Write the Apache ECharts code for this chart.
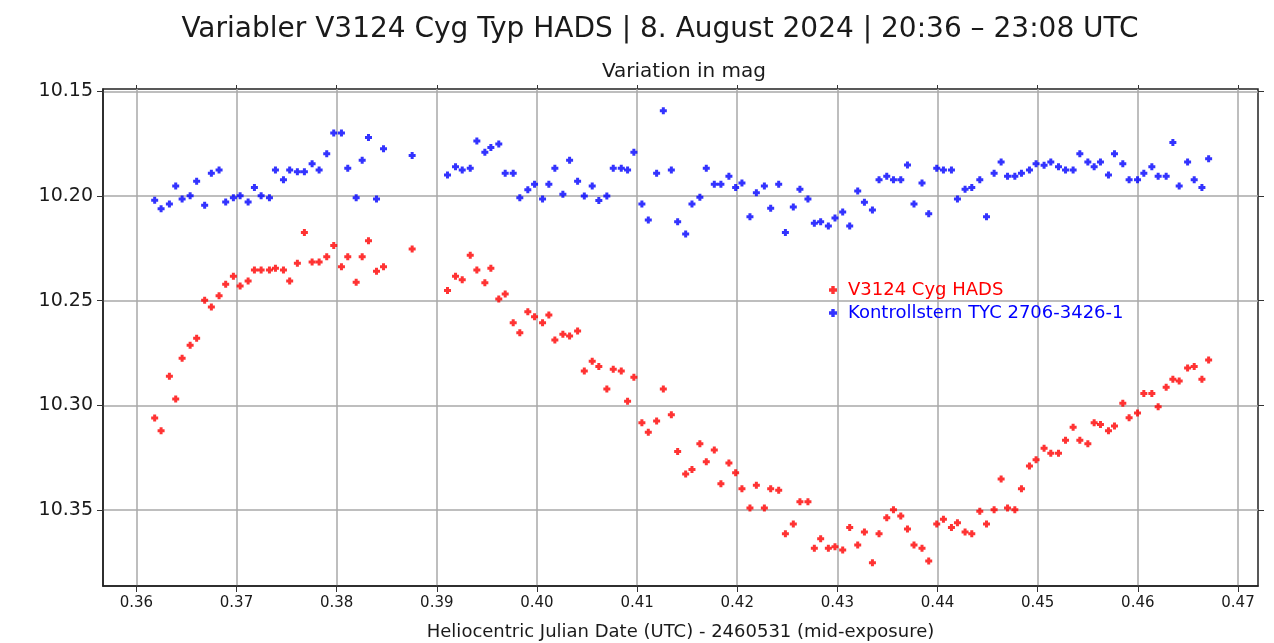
<!DOCTYPE html>
<html>
<head>
<meta charset="utf-8">
<script src="https://cdn.jsdelivr.net/npm/echarts@6/dist/echarts.min.js"></script>
<style>
  html, body { margin: 0; padding: 0; background: #fff; }
  #chart { width: 1274px; height: 643px; }
</style>
</head>
<body>
<div id="chart"></div>
<script>
// HJD - 2460531 (mid-exposure), same time stamps for both stars
var times = [
  0.36183, 0.36247, 0.36330, 0.36393, 0.36457, 0.36537, 0.36602, 0.36682, 0.36749, 0.36826,
  0.36892, 0.36969, 0.37036, 0.37116, 0.37179, 0.37246, 0.37329, 0.37389, 0.37469, 0.37531,
  0.37608, 0.37678, 0.37755, 0.37825, 0.37901, 0.37971, 0.38048, 0.38111, 0.38195, 0.38255,
  0.38318, 0.38398, 0.38468, 0.38754, 0.39107, 0.39187, 0.39254, 0.39334, 0.39400, 0.39480,
  0.39540, 0.39619, 0.39683, 0.39763, 0.39829, 0.39909, 0.39976, 0.40056, 0.40119, 0.40179,
  0.40259, 0.40326, 0.40406, 0.40473, 0.40552, 0.40618, 0.40698, 0.40762, 0.40842, 0.40905,
  0.40968, 0.41048, 0.41112, 0.41195, 0.41262, 0.41342, 0.41405, 0.41485, 0.41548, 0.41627,
  0.41691, 0.41771, 0.41837, 0.41917, 0.41984, 0.42047, 0.42127, 0.42191, 0.42271, 0.42334,
  0.42414, 0.42481, 0.42560, 0.42626, 0.42706, 0.42770, 0.42833, 0.42910, 0.42976, 0.43053,
  0.43123, 0.43203, 0.43270, 0.43350, 0.43416, 0.43493, 0.43560, 0.43633, 0.43700, 0.43765,
  0.43845, 0.43912, 0.43992, 0.44059, 0.44139, 0.44199, 0.44275, 0.44342, 0.44422, 0.44489,
  0.44565, 0.44635, 0.44699, 0.44772, 0.44838, 0.44918, 0.44984, 0.45064, 0.45131, 0.45208,
  0.45278, 0.45354, 0.45421, 0.45501, 0.45564, 0.45627, 0.45707, 0.45767, 0.45850, 0.45913,
  0.45997, 0.46060, 0.46140, 0.46203, 0.46283, 0.46350, 0.46413, 0.46497, 0.46563, 0.46640,
  0.46707
];

// V3124 Cyg (HADS)
var hadsMag = [
  10.3060, 10.3121, 10.2861, 10.2970, 10.2775, 10.2713, 10.2680, 10.2498, 10.2530, 10.2476,
  10.2422, 10.2384, 10.2430, 10.2406, 10.2354, 10.2354, 10.2354, 10.2345, 10.2354, 10.2406,
  10.2321, 10.2175, 10.2315, 10.2315, 10.2290, 10.2237, 10.2338, 10.2290, 10.2412, 10.2290,
  10.2214, 10.2360, 10.2338, 10.2253, 10.2452, 10.2384, 10.2400, 10.2283, 10.2354, 10.2414,
  10.2345, 10.2492, 10.2468, 10.2605, 10.2653, 10.2553, 10.2577, 10.2605, 10.2568, 10.2688,
  10.2661, 10.2669, 10.2645, 10.2836, 10.2790, 10.2814, 10.2922, 10.2828, 10.2836, 10.2981,
  10.2866, 10.3083, 10.3129, 10.3075, 10.2922, 10.3045, 10.3221, 10.3328, 10.3306, 10.3183,
  10.3269, 10.3213, 10.3374, 10.3275, 10.3322, 10.3398, 10.3490, 10.3382, 10.3490, 10.3398,
  10.3406, 10.3613, 10.3567, 10.3460, 10.3460, 10.3683, 10.3637, 10.3683, 10.3675, 10.3691,
  10.3583, 10.3667, 10.3605, 10.3752, 10.3613, 10.3537, 10.3499, 10.3529, 10.3591, 10.3667,
  10.3683, 10.3744, 10.3567, 10.3544, 10.3583, 10.3561, 10.3605, 10.3613, 10.3506, 10.3567,
  10.3499, 10.3352, 10.3490, 10.3499, 10.3398, 10.3290, 10.3260, 10.3205, 10.3229, 10.3229,
  10.3167, 10.3105, 10.3167, 10.3183, 10.3083, 10.3091, 10.3121, 10.3099, 10.2990, 10.3059,
  10.3037, 10.2944, 10.2944, 10.3007, 10.2914, 10.2876, 10.2884, 10.2822, 10.2814, 10.2876,
  10.2783
];

// Kontrollstern TYC 2706-3426-1
var checkMag = [
  10.2021, 10.2061, 10.2038, 10.1952, 10.2014, 10.1999, 10.1930, 10.2044, 10.1892, 10.1876,
  10.2029, 10.2008, 10.1999, 10.2029, 10.1960, 10.1999, 10.2008, 10.1876, 10.1922, 10.1876,
  10.1884, 10.1884, 10.1846, 10.1876, 10.1798, 10.1699, 10.1699, 10.1868, 10.2008, 10.1829,
  10.1721, 10.2014, 10.1775, 10.1807, 10.1900, 10.1860, 10.1876, 10.1868, 10.1737, 10.1791,
  10.1769, 10.1752, 10.1892, 10.1892, 10.2008, 10.1970, 10.1944, 10.2014, 10.1944, 10.1868,
  10.1992, 10.1829, 10.1930, 10.2000, 10.1952, 10.2022, 10.2000, 10.1868, 10.1868, 10.1876,
  10.1791, 10.2038, 10.2115, 10.1892, 10.1593, 10.1876, 10.2123, 10.2182, 10.2038, 10.2006,
  10.1868, 10.1944, 10.1944, 10.1906, 10.1960, 10.1938, 10.2099, 10.1984, 10.1952, 10.2059,
  10.1944, 10.2175, 10.2053, 10.1968, 10.2014, 10.2130, 10.2123, 10.2143, 10.2105, 10.2076,
  10.2143, 10.1976, 10.2030, 10.2067, 10.1922, 10.1906, 10.1922, 10.1922, 10.1852, 10.2038,
  10.1938, 10.2085, 10.1868, 10.1876, 10.1876, 10.2014, 10.1968, 10.1960, 10.1922, 10.2099,
  10.1892, 10.1838, 10.1906, 10.1906, 10.1892, 10.1876, 10.1846, 10.1853, 10.1838, 10.1860,
  10.1876, 10.1876, 10.1798, 10.1838, 10.1860, 10.1838, 10.1900, 10.1798, 10.1846, 10.1922,
  10.1922, 10.1892, 10.1860, 10.1906, 10.1906, 10.1745, 10.1952, 10.1838, 10.1922, 10.1960,
  10.1822
];

var xTicks = [0.36, 0.37, 0.38, 0.39, 0.40, 0.41, 0.42, 0.43, 0.44, 0.45, 0.46, 0.47];
var yTicks = [10.15, 10.20, 10.25, 10.30, 10.35];

var seriesNames = ['V3124 Cyg HADS', 'Kontrollstern TYC 2706-3426-1'];

var xMin = 0.35667, xMax = 0.4720;
var yMin = 10.1489, yMax = 10.3863;

var plusSymbol = 'path://M2,0H5V2H7V5H5V7H2V5H0V2H2Z';
var gridColor = '#a9a9a9';
var font = '"DejaVu Sans", sans-serif';

function pairs(mags) {
    var out = [];
    for (var i = 0; i < times.length; i++) {
        out.push([times[i], mags[i]]);
    }
    return out;
}

var chart = echarts.init(document.getElementById('chart'));

var option = {
    animation: false,
    backgroundColor: '#fff',
    title: [
        {
            text: 'Variabler V3124 Cyg Typ HADS | 8. August 2024 | 20:36 – 23:08 UTC',
            left: 655,
            top: 11,
            textAlign: 'center',
            textStyle: { fontFamily: font, fontSize: 28, fontWeight: 'normal', color: '#1a1a1a' }
        },
        {
            text: 'Variation in mag',
            left: 679,
            top: 57,
            textAlign: 'center',
            textStyle: { fontFamily: font, fontSize: 20, fontWeight: 'normal', color: '#1a1a1a' }
        }
    ],
    legend: {
        orient: 'vertical',
        left: 824,
        top: 276,
        itemWidth: 8,
        itemHeight: 8,
        itemGap: 5,
        data: [
            { name: seriesNames[0], textStyle: { color: '#ff0000' } },
            { name: seriesNames[1], textStyle: { color: '#0000ff' } }
        ],
        textStyle: { fontFamily: font, fontSize: 18, lineHeight: 18, padding: [0, 0, 0, 6] }
    },
    grid: {
        left: 103,
        right: 16,
        top: 89,
        bottom: 57,
        show: true,
        borderColor: '#222',
        borderWidth: 1.5,
        outerBoundsMode: 'none'
    },
    xAxis: [
        {
            type: 'value',
            min: xMin,
            max: xMax,
            name: 'Heliocentric Julian Date (UTC) - 2460531 (mid-exposure)',
            nameLocation: 'middle',
            nameGap: 37,
            nameTextStyle: { fontFamily: font, fontSize: 18, color: '#1a1a1a' },
            axisLine: { show: true, onZero: false, lineStyle: { color: '#222', width: 1.5 } },
            axisTick: { show: true, length: 6, customValues: xTicks, lineStyle: { color: '#333' } },
            axisLabel: {
                customValues: xTicks,
                margin: 10,
                fontFamily: font,
                fontSize: 15,
                color: '#1a1a1a',
                formatter: function (v) { return v.toFixed(2); }
            },
            splitLine: { show: true, lineStyle: { color: gridColor, width: 1.5 } }
        },
        {
            type: 'value',
            position: 'top',
            min: xMin,
            max: xMax,
            axisLine: { show: false },
            axisTick: { show: true, length: 4, customValues: xTicks, lineStyle: { color: '#333' } },
            axisLabel: { show: false, customValues: xTicks },
            splitLine: { show: false }
        }
    ],
    yAxis: [
        {
            type: 'value',
            inverse: true,
            min: yMin,
            max: yMax,
            axisLine: { show: true, onZero: false, lineStyle: { color: '#222', width: 1.5 } },
            axisTick: { show: true, length: 6, customValues: yTicks, lineStyle: { color: '#333' } },
            axisLabel: {
                customValues: yTicks,
                margin: 10,
                fontFamily: font,
                fontSize: 19,
                color: '#1a1a1a',
                formatter: function (v) { return v.toFixed(2); }
            },
            splitLine: { show: true, lineStyle: { color: gridColor, width: 1.5 } }
        },
        {
            type: 'value',
            position: 'right',
            inverse: true,
            min: yMin,
            max: yMax,
            axisLine: { show: false },
            axisTick: { show: true, length: 6, customValues: yTicks, lineStyle: { color: '#333' } },
            axisLabel: { show: false, customValues: yTicks },
            splitLine: { show: false }
        }
    ],
    series: [
        {
            name: seriesNames[0],
            type: 'scatter',
            xAxisIndex: 0,
            yAxisIndex: 0,
            symbol: plusSymbol,
            symbolSize: 7,
            itemStyle: { color: '#ff0000' },
            data: pairs(hadsMag)
        },
        {
            name: seriesNames[1],
            type: 'scatter',
            xAxisIndex: 0,
            yAxisIndex: 0,
            symbol: plusSymbol,
            symbolSize: 7,
            itemStyle: { color: '#0000ff' },
            data: pairs(checkMag)
        }
    ]
};

chart.setOption(option);
</script>
</body>
</html>
